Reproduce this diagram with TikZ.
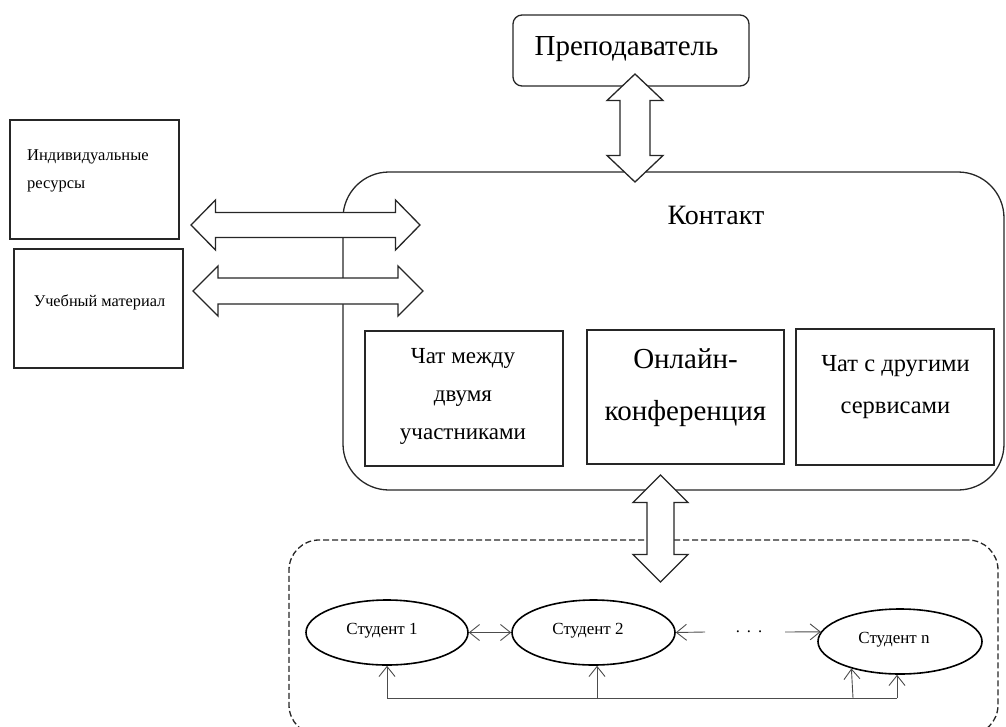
\documentclass[tikz,border=0pt]{standalone}
\usepackage{fontspec}
\setmainfont{Liberation Serif}
\usetikzlibrary{arrows.meta,shapes.geometric}

\newcommand\fsz[2]{\fontsize{#1}{#2}\selectfont}

% horizontal double block arrow: left tip x, right tip x, centre y, shaft half-width, head half-width, head length
\newcommand\hdarrow[6]{%
  \draw[blockarrow] (#1,#3) -- ({#1+#6},{#3-#5}) -- ({#1+#6},{#3-#4}) -- ({#2-#6},{#3-#4})
    -- ({#2-#6},{#3-#5}) -- (#2,#3) -- ({#2-#6},{#3+#5}) -- ({#2-#6},{#3+#4})
    -- ({#1+#6},{#3+#4}) -- ({#1+#6},{#3+#5}) -- cycle;}
% vertical double block arrow: centre x, top tip y, bottom tip y, shaft half-width, head half-width, head length
\newcommand\vdarrow[6]{%
  \draw[blockarrow] (#1,#2) -- ({#1+#5},{#2+#6}) -- ({#1+#4},{#2+#6}) -- ({#1+#4},{#3-#6})
    -- ({#1+#5},{#3-#6}) -- (#1,#3) -- ({#1-#5},{#3-#6}) -- ({#1-#4},{#3-#6})
    -- ({#1-#4},{#2+#6}) -- ({#1-#5},{#2+#6}) -- cycle;}

\begin{document}
\begin{tikzpicture}[x=1pt,y=-1pt,
  box/.style={draw=black!85, line width=1.3pt, inner sep=0pt},
  txt/.style={inner sep=0pt},
  blockarrow/.style={draw=black!85, line width=1.3pt, fill=white, line join=miter},
  student/.style={ellipse, draw=black, line width=1.6pt, inner sep=0pt,
    minimum width=162pt, minimum height=65pt},
  stext/.style={inner sep=0pt, font=\fsz{17}{20}},
  conn/.style={draw=black!70, line width=0.9pt},
  >={Straight Barb[length=10pt,width=16pt]}]
\useasboundingbox (0,0) rectangle (1006,726);
\clip (0,0) rectangle (1006,726);

% teacher
\node[box, rounded corners=9pt, minimum width=236pt, minimum height=71pt] (teacher) at (631,50.5) {};
\node[txt, font=\fsz{29}{34}] (teachertxt) at (626.5,49) {Преподаватель};

% resources on the left
\node[box, minimum width=169pt, minimum height=119pt] (res) at (94.5,179.5) {};
\node[txt, anchor=west, align=left, font=\fsz{16.5}{28}] (restxt) at (27,171) {Индивидуальные\\ресурсы};
\node[box, minimum width=169pt, minimum height=119pt] (mat) at (98.5,308.5) {};
\node[txt, font=\fsz{16.3}{18}] (mattxt) at (99.5,302) {Учебный материал};

% contact area
\node[box, rounded corners=46pt, minimum width=661pt, minimum height=318pt] (contact) at (673.5,331) {};
\node[txt, font=\fsz{28}{32}] (contacttxt) at (716,215) {Контакт};

\node[box, minimum width=198pt, minimum height=135pt] (chat1) at (464,398.5) {};
\node[txt, align=center, font=\fsz{23}{38}] (chat1txt) at (463,396) {Чат между\\двумя\\участниками};
\node[box, minimum width=197pt, minimum height=134pt] (conf) at (685.5,397) {};
\node[txt, align=center, font=\fsz{29}{52}] (conftxt) at (685.5,388) {Онлайн-\\конференция};
\node[box, minimum width=198pt, minimum height=136pt] (chat2) at (895,397) {};
\node[txt, align=center, font=\fsz{24.5}{42}] (chat2txt) at (895.5,387) {Чат с другими\\сервисами};

% block arrows into the contact area
\hdarrow{191}{420}{225}{12.5}{25}{24.5}
\hdarrow{193}{423}{291}{13}{25}{25}
\vdarrow{635}{74}{182}{15}{28}{26.5}

% group of students
\node[draw=black!85, line width=1.3pt, dash pattern=on 6pt off 3pt, rounded corners=30pt,
  minimum width=709pt, minimum height=195pt, inner sep=0pt] (group) at (643.5,637.5) {};
\vdarrow{660.5}{475}{582}{13.5}{27.5}{27.5}

\node[student] (s1) at (387,632.5) {};
\node[stext] (s1txt) at (382,631) {Студент 1};
\node[student, minimum width=163pt] (s2) at (593.5,632.5) {};
\node[stext] (s2txt) at (588,631) {Студент 2};
\node[student, minimum width=164pt] (sn) at (900,641.5) {};
\node[stext] (sntxt) at (894,640) {Студент n};

\draw[conn, <->] (s1) -- (s2);
\coordinate (dl) at (705,632);
\coordinate (dr) at (785,632);
\node[font=\fsz{16.5}{20}, inner sep=0pt] (dots) at (749,632) {.\hspace{7pt}.\hspace{7pt}.};
\draw[conn, ->] (dl) -- (s2.east);
\draw[conn, ->] (dr) -- (sn.173);

\coordinate (b1) at (387,698);
\coordinate (b2) at (597,698);
\coordinate (b3) at (853,698);
\coordinate (b4) at (897,698);
\draw[conn] (b1) -- (b4);
\draw[conn, ->] (b1) -- (s1.south);
\draw[conn, ->] (b2) -- (b2 |- s2.south);
\draw[conn, ->] (b3) -- (sn.209.5);
\draw[conn, ->] (b4) -- (b4 |- sn.south);
\end{tikzpicture}
\end{document}
